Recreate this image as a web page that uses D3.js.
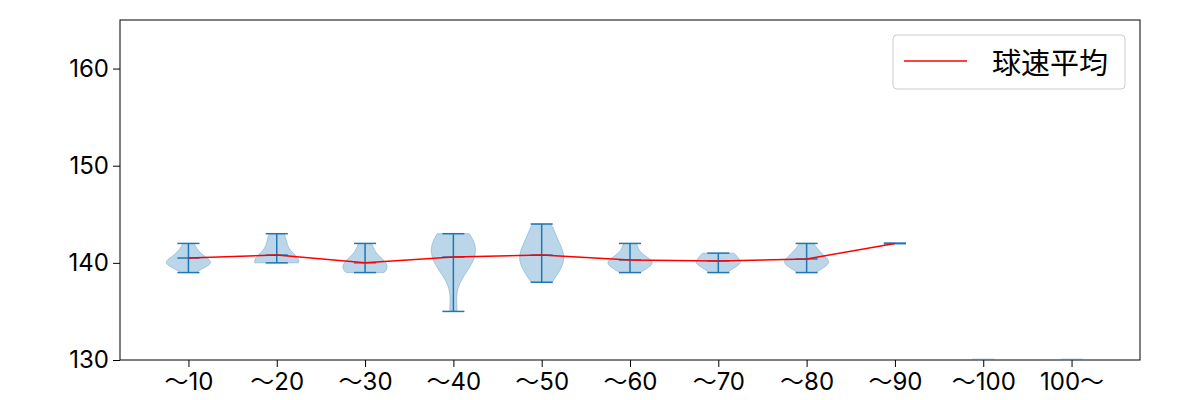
<!DOCTYPE html>
<html>
<head>
<meta charset="utf-8">
<script src="https://cdn.jsdelivr.net/npm/d3@7"></script>
<style>
  body { margin: 0; background: #fff; }
  svg text { font-family: "Noto Sans CJK JP", "Noto Sans", sans-serif; fill: #000; }
</style>
</head>
<body>
<div id="chart"></div>
<script>

// categories on the x axis
var categories = ["～10", "～20", "～30", "～40", "～50", "～60", "～70", "～80", "～90", "～100", "100～"];

// pitch speeds (km/h) per category
var pitchSpeeds = [
	[139, 140, 140, 140, 140, 140, 141, 141, 142],
	[140, 140, 140, 140, 141, 142, 143],
	[139, 139, 139, 140, 140, 140, 141, 142],
	[135, 139, 140, 140, 141, 141, 142, 142, 143, 143],
	[138, 139, 140, 140, 141, 141, 142, 143, 144],
	[139, 140, 140, 140, 140, 141, 142],
	[139, 140, 140, 140, 141, 141],
	[139, 140, 140, 140, 140, 141, 141, 142],
	[142],
	[],
	[]
];

// 球速平均 (red line)
var avgSpeed = [140.5, 140.8, 140.0, 140.6, 140.8, 140.3, 140.2, 140.4, 142.0];

var yTicks = [130, 140, 150, 160];

var margin = {top: 20, right: 60, bottom: 40, left: 120};
var width = 1200;
var height = 400;
var plotW = width - margin.left - margin.right;
var plotH = height - margin.top - margin.bottom;
var blue = "#1f77b4";

var svg = d3.select("#chart").append("svg")
	.attr("width", width)
	.attr("height", height);

var g = svg.append("g")
	.attr("transform", "translate(" + margin.left + "," + margin.top + ")");

var x = d3.scaleLinear().domain([0.225, 11.775]).range([0, plotW]);
var y = d3.scaleLinear().domain([130, 165]).range([plotH, 0]);
var halfW = x(1.25) - x(1);   // widths 0.5
var capW = x(1.125) - x(1);

var plot = g.append("g");
g.append("clipPath").attr("id", "clip")
	.append("rect").attr("width", plotW).attr("height", plotH);
plot.attr("clip-path", "url(#clip)");

// gaussian kde, scott's rule like matplotlib
function kde(samples, coords) {
	var n = samples.length;
	var bw = d3.deviation(samples) * Math.pow(n, -0.2);
	return coords.map(function(c) {
		return d3.sum(samples, function(s) {
			var u = (c - s) / bw;
			return Math.exp(-0.5 * u * u);
		}) / (n * bw * Math.sqrt(2 * Math.PI));
	});
}

pitchSpeeds.forEach(function(samples, i) {
	var pos = i + 1;
	var cx = x(pos);
	if (samples.length == 0) {
		// empty category: faint body trace on the bottom edge
		plot.append("line")
			.attr("x1", cx - capW).attr("x2", cx + capW)
			.attr("y1", plotH - 1).attr("y2", plotH - 1)
			.attr("stroke", blue).attr("stroke-opacity", 0.12).attr("stroke-width", 2);
		return;
	}
	var lo = d3.min(samples), hi = d3.max(samples);
	if (hi > lo) {
		var coords = d3.range(100).map(function(k) { return lo + (hi - lo) * k / 99; });
		var vals = kde(samples, coords);
		var vmax = d3.max(vals);
		var pts = coords.map(function(c, k) { return [c, vals[k] / vmax]; });
		var area = d3.area()
			.y(function(d) { return y(d[0]); })
			.x0(function(d) { return cx - d[1] * halfW; })
			.x1(function(d) { return cx + d[1] * halfW; });
		plot.append("path")
			.datum(pts)
			.attr("d", area)
			.attr("fill", blue).attr("fill-opacity", 0.3)
			.attr("stroke", blue).attr("stroke-opacity", 0.3).attr("stroke-width", 1);
	}
	var lines = [hi, lo];
	if (i < avgSpeed.length) lines.push(avgSpeed[i]);
	lines.forEach(function(v) {
		plot.append("line")
			.attr("x1", cx - capW).attr("x2", cx + capW)
			.attr("y1", y(v)).attr("y2", y(v))
			.attr("stroke", blue).attr("stroke-width", 1.5);
	});
	plot.append("line")
		.attr("x1", cx).attr("x2", cx)
		.attr("y1", y(lo)).attr("y2", y(hi))
		.attr("stroke", blue).attr("stroke-width", 1.5);
});

// average line
var line = d3.line()
	.x(function(d, i) { return x(i + 1); })
	.y(function(d) { return y(d); });
plot.append("path")
	.datum(avgSpeed)
	.attr("d", line)
	.attr("fill", "none")
	.attr("stroke", "red")
	.attr("stroke-width", 1.5);

// axes
var xAxis = d3.axisBottom(x)
	.tickValues(d3.range(1, categories.length + 1))
	.tickFormat(function(d) { return categories[d - 1]; })
	.tickSizeOuter(0).tickSize(7).tickPadding(6);
var yAxis = d3.axisLeft(y)
	.tickValues(yTicks)
	.tickSizeOuter(0).tickSize(7).tickPadding(4);

var gx = g.append("g").attr("transform", "translate(0," + plotH + ")").call(xAxis);
var gy = g.append("g").call(yAxis);
[gx, gy].forEach(function(a) {
	a.select(".domain").remove();
	a.selectAll("line").attr("stroke", "#000").attr("stroke-width", 1);
	a.selectAll("text").attr("font-size", 24)
		.style("font-family", "Inter, 'Noto Sans CJK JP', sans-serif");
});

g.append("rect")
	.attr("width", plotW).attr("height", plotH)
	.attr("fill", "none").attr("stroke", "#000").attr("stroke-width", 1);

// legend
var lg = g.append("g").attr("transform", "translate(" + (893 - margin.left) + "," + (35 - margin.top) + ")");
lg.append("rect")
	.attr("width", 232).attr("height", 54)
	.attr("rx", 4).attr("ry", 4)
	.attr("fill", "#fff").attr("fill-opacity", 0.8)
	.attr("stroke", "#cccccc");
lg.append("line")
	.attr("x1", 11).attr("x2", 74)
	.attr("y1", 26).attr("y2", 26)
	.attr("stroke", "red").attr("stroke-width", 1.5);
lg.append("text")
	.attr("x", 99).attr("y", 26)
	.attr("dominant-baseline", "central")
	.attr("font-size", 29)
	.text("球速平均");

</script>
</body>
</html>
